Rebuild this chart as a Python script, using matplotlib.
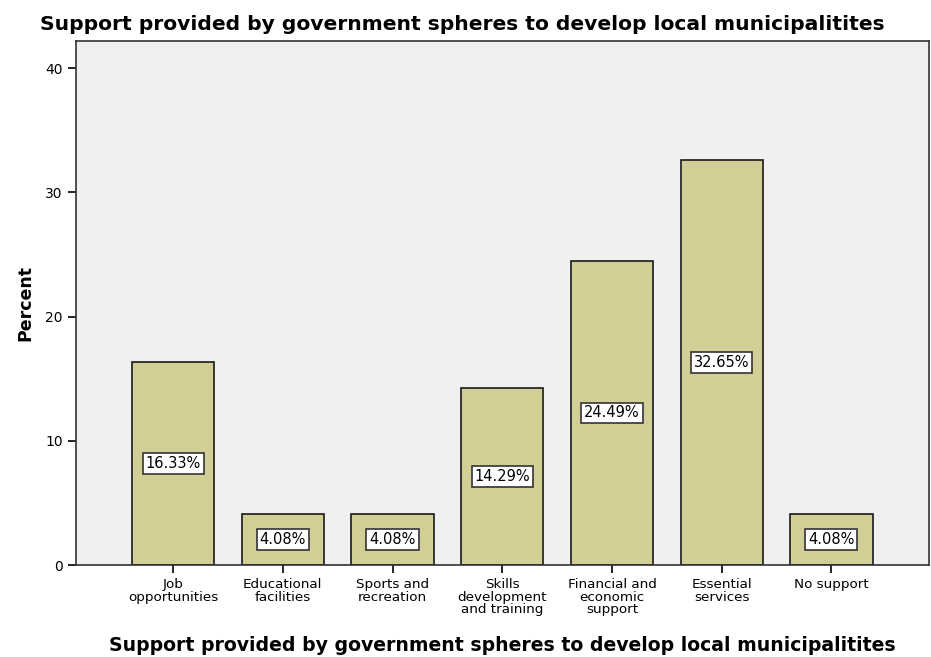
import numpy as np
import matplotlib.pyplot as plt

categories = ["Job\nopportunities", "Educational\nfacilities", "Sports and\nrecreation",
              "Skills\ndevelopment\nand training", "Financial and\neconomic\nsupport",
              "Essential\nservices", "No support"]
percent = [16.33, 4.08, 4.08, 14.29, 24.49, 32.65, 4.08]

title = "Support provided by government spheres to develop local municipalitites"

fig = plt.figure(figsize=(9.31, 6.57), dpi=100)
ax = fig.add_axes([0.0816, 0.14, 0.9163, 0.7976])
ax.set_facecolor("#f0f0f0")

x = np.arange(len(categories))
ax.bar(x, percent, width=0.75, color="#d2cf96", edgecolor="#1a1a1a", linewidth=1.2, zorder=2)

# value boxes sit halfway up each bar
for xi, v in zip(x, percent):
    ax.text(xi, v / 2, f"{v:.2f}%", ha="center", va="center", fontsize=10.5,
            bbox=dict(boxstyle="square,pad=0.2", fc="white", ec="#333333", lw=1.2), zorder=3)

ax.set_xlim(-0.885, 6.89)
ax.set_ylim(0, 42.2)
ax.set_yticks([0, 10, 20, 30, 40])
ax.set_xticks(x)
ax.set_xticklabels(categories, fontsize=9.7, linespacing=0.95)
ax.tick_params(axis="y", labelsize=10, length=6, width=1.2, direction="out")
ax.tick_params(axis="x", length=6, width=1.2, direction="out")
for s in ax.spines.values():
    s.set_linewidth(1.2)
    s.set_color("#333333")

ax.set_ylabel("Percent", fontsize=12.5, fontweight="bold", labelpad=8)
ax.set_xlabel(title, fontsize=13.6, fontweight="bold", labelpad=14)
fig.suptitle(title, fontsize=14.6, fontweight="bold", x=0.497, y=0.977)

fig.savefig("out.png", dpi=100)
